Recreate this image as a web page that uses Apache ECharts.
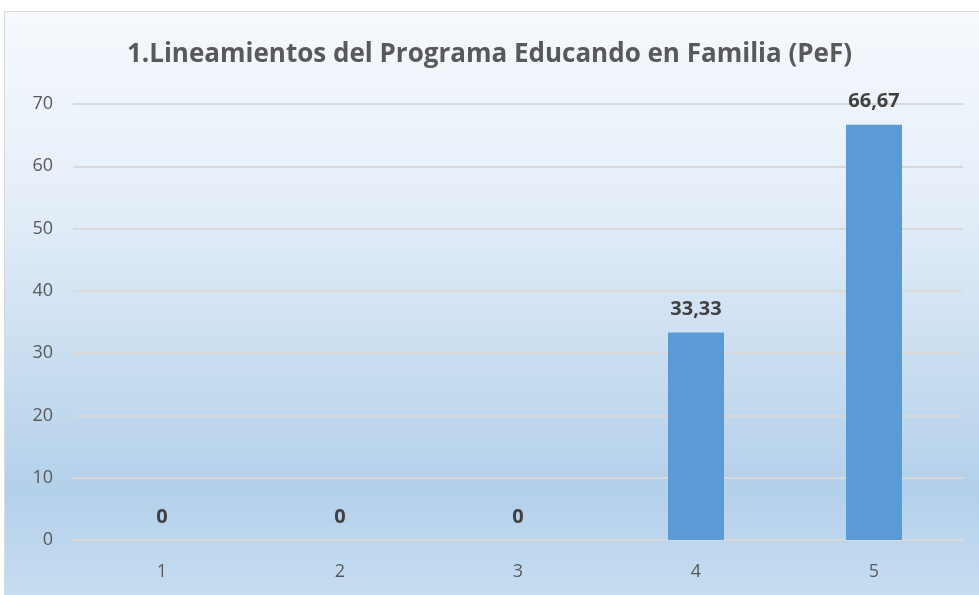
<!DOCTYPE html>
<html>
<head>
<meta charset="utf-8">
<script src="https://cdn.jsdelivr.net/npm/echarts@6/dist/echarts.min.js"></script>
<style>
html, body { margin: 0; padding: 0; background: #ffffff; }
#chart { width: 979px; height: 595px; }
</style>
</head>
<body>
<div id="chart"></div>
<script>
var categories = ['1', '2', '3', '4', '5'];
var values = [0, 0, 0, 33.33, 66.67];
var titleText = '1.Lineamientos del Programa Educando en Familia (PeF)';

var chart = echarts.init(document.getElementById('chart'));

var option = {
	animation: false,
	textStyle: { fontFamily: 'Open Sans' },
	graphic: [
		{
			type: 'rect',
			z: -10,
			silent: true,
			shape: { x: 4.5, y: 11.5, width: 1000, height: 600 },
			style: {
				fill: new echarts.graphic.LinearGradient(0, 0, 0, 1, [
					{ offset: 0, color: '#f6f9fd' },
					{ offset: 0.3, color: '#e6eff9' },
					{ offset: 0.8, color: '#b3d0ea' },
					{ offset: 1, color: '#cadff2' }
				]),
				stroke: '#d9d9d9',
				lineWidth: 1
			}
		}
	],
	title: {
		text: titleText,
		left: 'center',
		top: 37,
		textStyle: {
			fontSize: 26,
			fontWeight: 'bold',
			color: '#595959',
			fontFamily: 'Open Sans'
		}
	},
	grid: {
		left: 73,
		right: 16,
		top: 104,
		bottom: 55,
		containLabel: false
	},
	xAxis: {
		type: 'category',
		data: categories,
		axisLine: { lineStyle: { color: '#d9d9d9', width: 2 } },
		axisTick: { show: false },
		axisLabel: { color: '#595959', fontSize: 18, margin: 23 }
	},
	yAxis: {
		type: 'value',
		min: 0,
		max: 70,
		interval: 10,
		axisLine: { show: false },
		axisTick: { show: false },
		splitLine: { lineStyle: { color: '#d9d9d9', width: 2 } },
		axisLabel: { color: '#595959', fontSize: 18, margin: 20 }
	},
	series: [
		{
			type: 'bar',
			data: values,
			barWidth: 56,
			itemStyle: { color: '#5b9bd5' },
			label: {
				show: true,
				position: 'top',
				distance: 13,
				fontSize: 20,
				fontWeight: 'bold',
				color: '#404040',
				formatter: function (p) {
					return String(p.value).replace('.', ',');
				}
			}
		}
	]
};

chart.setOption(option);
</script>
</body>
</html>
